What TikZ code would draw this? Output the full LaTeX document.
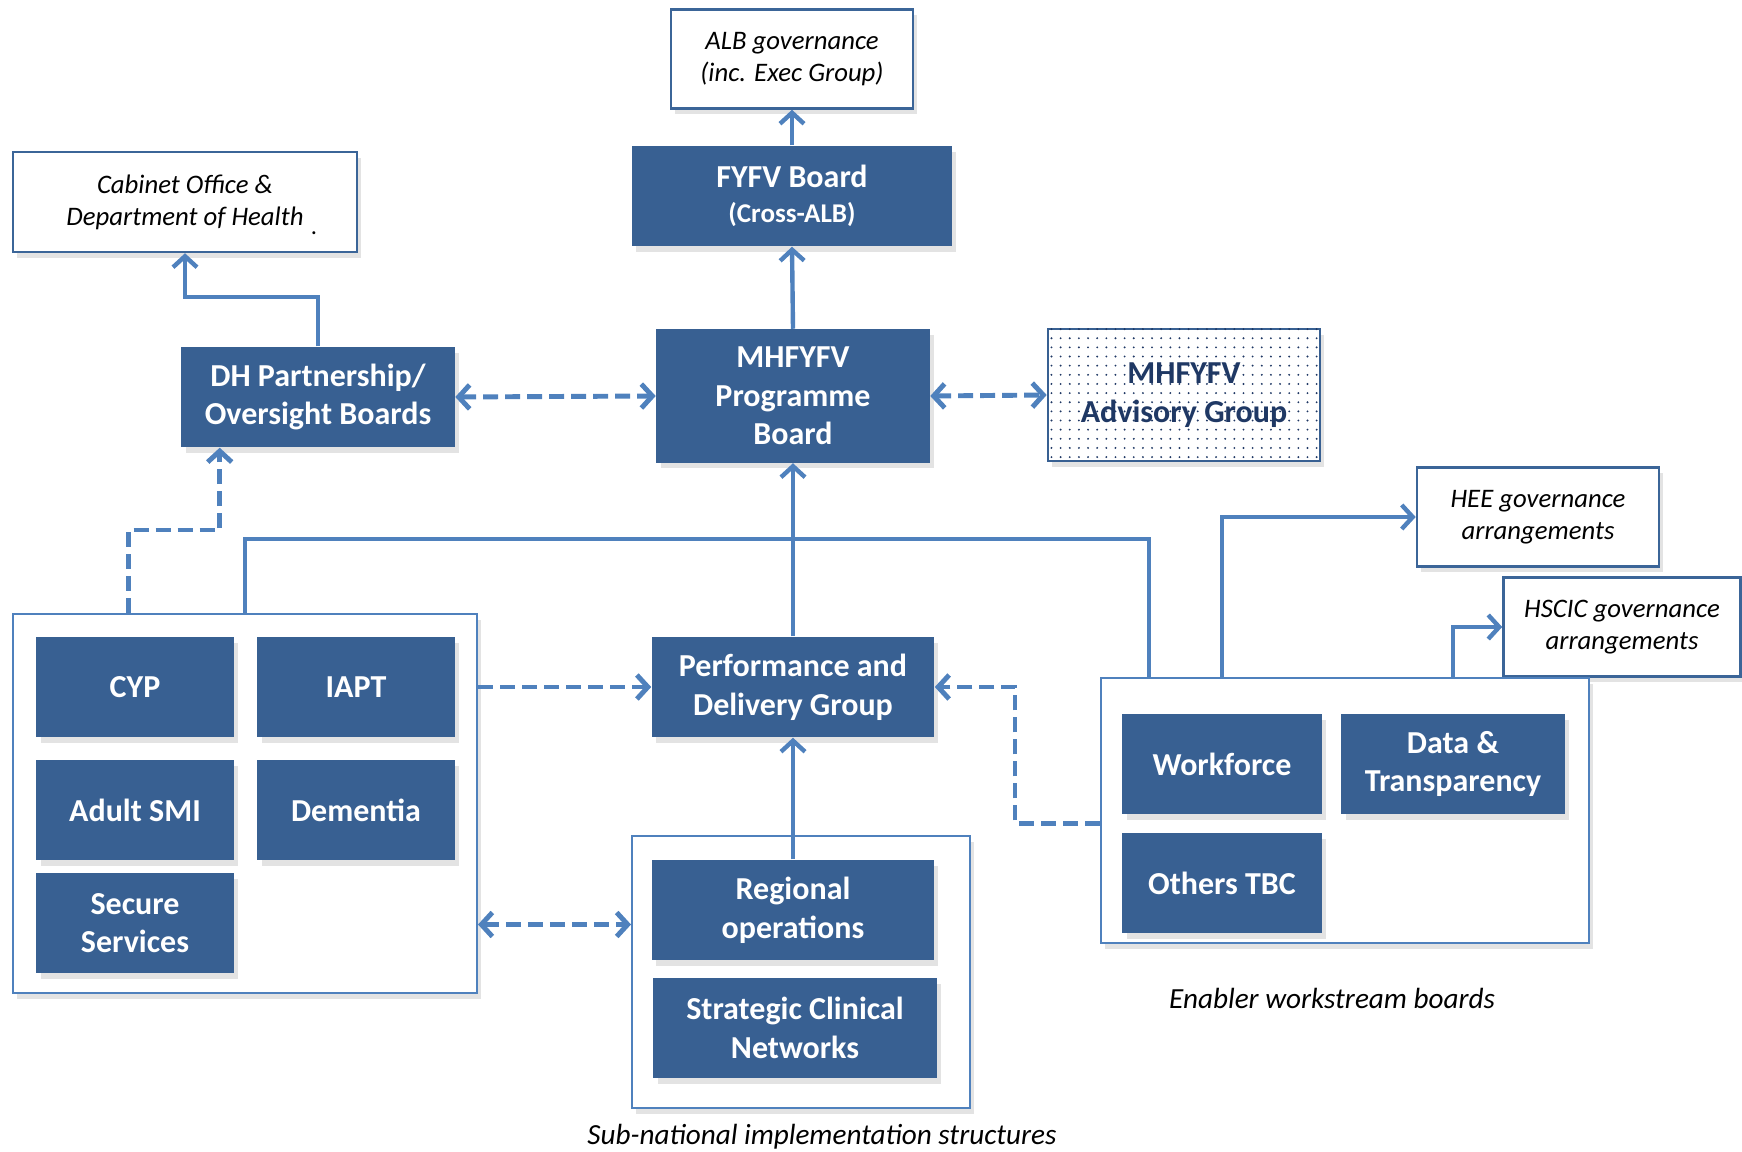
\documentclass[tikz,border=0pt]{standalone}
\usepackage{fontspec}
\setmainfont{Carlito}
\usetikzlibrary{arrows.meta,shadows,patterns.meta,calc}

\definecolor{boardblue}{RGB}{56,96,146}
\definecolor{linkblue}{RGB}{79,129,189}
\definecolor{navy}{RGB}{31,56,100}

\begin{document}
\begin{tikzpicture}[x=0.01cm,y=-0.01cm,
  shade/.style={drop shadow={shadow xshift=1.2pt,shadow yshift=-1.6pt,opacity=0.22}},
  board/.style={shade,fill=boardblue,text=white,align=center,inner sep=0pt,
    font=\fontsize{9.1}{11}\selectfont\bfseries,minimum height=1cm},
  govbox/.style={shade,draw=boardblue!85!linkblue,line width=0.7pt,fill=white,align=center,
    inner sep=0pt,font=\fontsize{7.6}{9.1}\selectfont\itshape,minimum width=2.42cm,minimum height=0.99cm},
  group/.style={shade,draw=linkblue,line width=0.5pt,fill=white,inner sep=0pt},
  note/.style={font=\fontsize{8.3}{10}\selectfont\itshape},
  link/.style={draw=linkblue,line width=1.25pt,-{Straight Barb[length=0.11cm,width=0.24cm]}},
  plain/.style={draw=linkblue,line width=1.25pt},
  dlink/.style={draw=linkblue,line width=1.4pt,dash pattern=on 0.15cm off 0.07cm,
    arrows={-Straight Barb[length=0.11cm,width=0.24cm]}},
  ddlink/.style={dlink,arrows={Straight Barb[length=0.11cm,width=0.24cm]-Straight Barb[length=0.11cm,width=0.24cm]}}]
\useasboundingbox (0,0) rectangle (1742,1152);

\node[govbox] (alb) at (792,59) {ALB governance\\(inc. Exec Group)};
\node[board,minimum width=3.2cm] (fyfv) at (792,196) {FYFV Board\\[-1pt]{\fontsize{7.7}{9}\selectfont(Cross-ALB)}};
\node[govbox,minimum width=3.44cm,minimum height=1cm] (cab) at (185,202) {Cabinet Office \&\\Department of Health};
\node[font=\fontsize{7}{9}\selectfont] (cabdot) at (314,233) {.};
\node[board,minimum width=2.73cm] (dh) at (318,397) {DH Partnership/\\Oversight Boards};
\node[board,minimum width=2.73cm,minimum height=1.33cm] (prog) at (793,396) {MHFYFV\\Programme\\Board};
\node[shade,draw=boardblue,line width=0.7pt,fill=white,postaction={pattern={Dots[distance=2.6pt,radius=0.3pt]},pattern color=navy},
  minimum width=2.72cm,minimum height=1.32cm,align=center,inner sep=0pt,text=navy,
  font=\fontsize{9.1}{11}\selectfont\bfseries] (adv) at (1184,395) {MHFYFV\\Advisory Group};
\node[govbox] (hee) at (1538,517) {HEE governance\\arrangements};
\node[govbox,minimum width=2.37cm] (hscic) at (1622,627) {HSCIC governance\\arrangements};

\node[group,minimum width=4.64cm,minimum height=3.79cm] (lgrp) at (245,803.5) {};
\node[board,minimum width=1.97cm] (cyp) at (135,687) {CYP};
\node[board,minimum width=1.97cm] (iapt) at (356,687) {IAPT};
\node[board,minimum width=1.97cm] (smi) at (135,810) {Adult SMI};
\node[board,minimum width=1.97cm] (dem) at (356,810) {Dementia};
\node[board,minimum width=1.97cm] (sec) at (135,923) {Secure\\Services};

\node[board,minimum width=2.82cm] (perf) at (793,687) {Performance and\\Delivery Group};
\node[group,minimum width=3.38cm,minimum height=2.72cm] (sub) at (801,972) {};
\node[board,minimum width=2.82cm] (reg) at (793,910) {Regional\\operations};
\node[board,minimum width=2.83cm] (scn) at (795,1028) {Strategic Clinical\\Networks};
\node[note] (sublbl) at (822,1137) {Sub-national implementation structures};

\node[group,minimum width=4.88cm,minimum height=2.65cm] (enab) at (1345,810.5) {};
\node[board,minimum width=1.99cm] (work) at (1222,764) {Workforce};
\node[board,minimum width=2.23cm] (data) at (1453,764) {Data \&\\Transparency};
\node[board,minimum width=1.99cm] (oth) at (1222,883) {Others TBC};
\node[note] (enablbl) at (1332,998) {Enabler workstream boards};

\coordinate (hub) at (1149,539);
\coordinate (lsub) at ($(lgrp.east)+(0,121)$);

\draw[link] (fyfv.north) -- (alb.south);
\draw[link] (prog.north) -- (fyfv.south);
\draw[link] (dh.north) -- ++(0,-49) -| (cab.south);
\draw[ddlink] (dh.east) -- (prog.west);
\draw[ddlink] (prog.east) -- (adv.west);
\draw[plain] (lgrp.north) |- (hub) -- (hub |- enab.north);
\draw[link] (perf.north) -- (prog.south);
\draw[dlink] ($(lgrp.north west)!0.25!(lgrp.north east)$) -- ++(0,-83) -| ($(dh.south west)+(39,0)$);
\draw[dlink] (lgrp.east |- perf.west) -- (perf.west);
\draw[dlink] ($(enab.west)+(0,13)$) -- ++(-85,0) |- (perf.east);
\draw[link] (reg.north) -- (perf.south);
\draw[ddlink] (lsub) -- (lsub -| sub.west);
\draw[link] ($(enab.north west)+(122,0)$) |- (hee.west);
\draw[link] ($(enab.north west)+(353,0)$) |- (hscic.west);
\end{tikzpicture}
\end{document}
